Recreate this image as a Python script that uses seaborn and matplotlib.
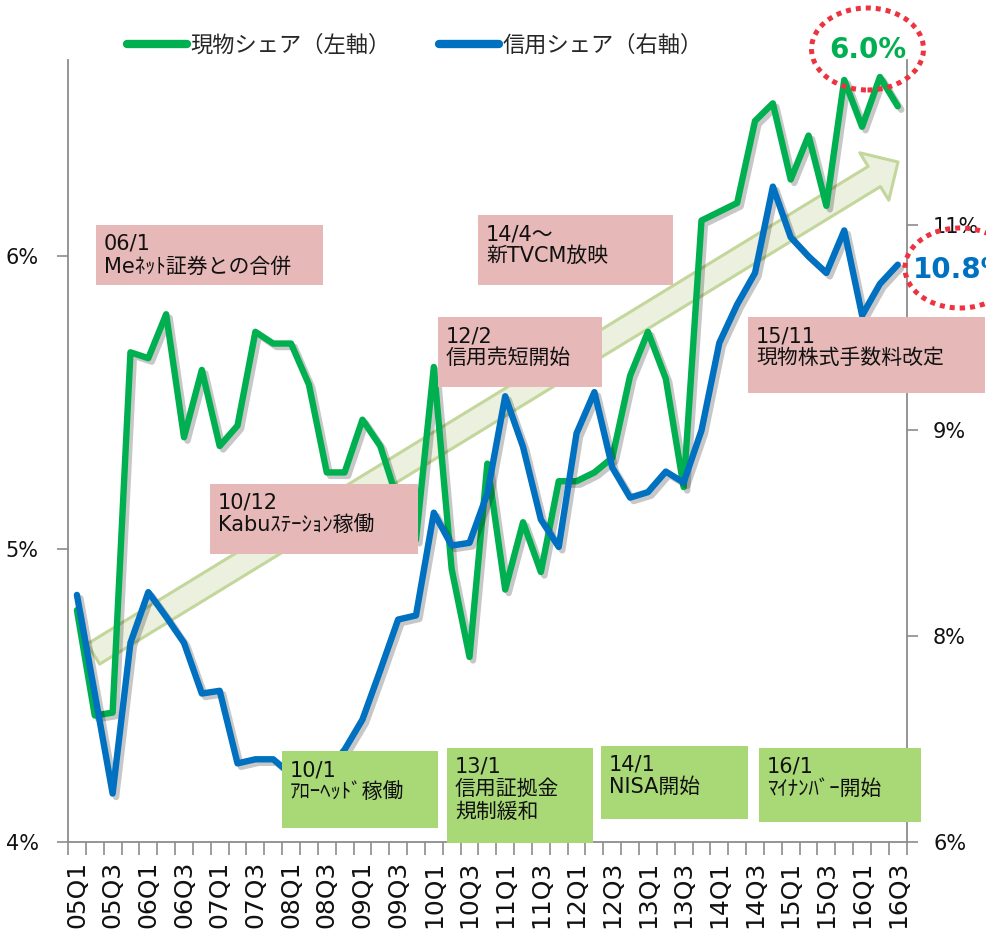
import numpy as np
import pandas as pd
import matplotlib
matplotlib.use('Agg')
import matplotlib.pyplot as plt
import seaborn as sns
from matplotlib.patches import Rectangle, Ellipse, FancyArrowPatch, ArrowStyle
from matplotlib.lines import Line2D
import matplotlib.patheffects as pe

# ---------------- data ----------------
quarters = ['05Q1', '05Q2', '05Q3', '05Q4', '06Q1', '06Q2', '06Q3', '06Q4',
            '07Q1', '07Q2', '07Q3', '07Q4', '08Q1', '08Q2', '08Q3', '08Q4',
            '09Q1', '09Q2', '09Q3', '09Q4', '10Q1', '10Q2', '10Q3', '10Q4',
            '11Q1', '11Q2', '11Q3', '11Q4', '12Q1', '12Q2', '12Q3', '12Q4',
            '13Q1', '13Q2', '13Q3', '13Q4', '14Q1', '14Q2', '14Q3', '14Q4',
            '15Q1', '15Q2', '15Q3', '15Q4', '16Q1', '16Q2', '16Q3']

# 現物シェア (left axis, %)
spot_share = [4.79, 4.43, 4.44, 5.67, 5.65, 5.80, 5.38, 5.61,
              5.35, 5.42, 5.74, 5.70, 5.70, 5.56, 5.26, 5.26,
              5.44, 5.35, 5.16, 5.03, 5.62, 4.93, 4.63, 5.29,
              4.86, 5.09, 4.92, 5.23, 5.23, 5.26, 5.31, 5.59,
              5.74, 5.58, 5.21, 6.12, 6.15, 6.18, 6.46, 6.52,
              6.26, 6.41, 6.17, 6.60, 6.44, 6.61, 6.51]

# 信用シェア (right axis, %)
margin_share = [7.80, 7.08, 6.35, 7.45, 7.82, 7.64, 7.45, 7.08,
                7.10, 6.57, 6.60, 6.60, 6.49, 6.41, 6.51, 6.67,
                6.89, 7.25, 7.62, 7.65, 8.40, 8.16, 8.18, 8.54,
                9.25, 8.88, 8.35, 8.15, 8.98, 9.28, 8.73, 8.51,
                8.55, 8.70, 8.62, 9.00, 9.64, 9.92, 10.15, 10.78,
                10.41, 10.27, 10.15, 10.46, 9.84, 10.07, 10.21]

left_ticks = [4, 5, 6]
left_tick_labels = ['4%', '5%', '6%']
right_ticks = [6, 7.5, 9, 10.5]
right_tick_labels = ['6%', '8%', '9%', '11%']

legend_labels = ['現物シェア（左軸）', '信用シェア（右軸）']

pink_notes = ['06/1\nMeﾈｯﾄ証券との合併', '14/4～\n新TVCM放映', '12/2\n信用売短開始',
              '10/12\nKabuｽﾃｰｼｮﾝ稼働', '15/11\n現物株式手数料改定']
green_notes = ['10/1\nｱﾛｰﾍｯﾄﾞ稼働', '13/1\n信用証拠金\n規制緩和', '14/1\nNISA開始',
               '16/1\nﾏｲﾅﾝﾊﾞｰ開始']

# ---------------- style ----------------
GREEN = '#00B050'
BLUE = '#0070C0'
GREY = '#8C8C8C'
PINK_BOX = '#E6B8B7'
GREEN_BOX = '#A9D977'

sns.set_theme(style='white')
plt.rcParams['font.family'] = ['DejaVu Sans', 'Noto Sans CJK JP']
plt.rcParams['axes.unicode_minus'] = False

W, H = 987, 933
fig = plt.figure(figsize=(W / 100, H / 100), dpi=100)
fig.patch.set_facecolor('white')

ax_l, ax_r, ax_t, ax_b = 68, 906.7, 60, 841.5
ax = fig.add_axes([ax_l / W, 1 - ax_b / H, (ax_r - ax_l) / W, (ax_b - ax_t) / H])
ax2 = ax.twinx()

df = pd.DataFrame({'quarter': quarters,
                   'pos': np.arange(len(quarters)),
                   'spot': spot_share,
                   'margin': margin_share})

shadow = [pe.SimpleLineShadow(offset=(2.5, -2.5), shadow_color='#000000', alpha=0.22, rho=0.3),
          pe.Normal()]

sns.lineplot(data=df, x='pos', y='spot', ax=ax, color=GREEN, linewidth=4.6,
             solid_joinstyle='round', solid_capstyle='round',
             path_effects=shadow, zorder=3, legend=False)
sns.lineplot(data=df, x='pos', y='margin', ax=ax2, color=BLUE, linewidth=4.6,
             solid_joinstyle='round', solid_capstyle='round',
             path_effects=shadow, zorder=3, legend=False)

ax.set_xlim(-0.5, len(quarters) - 0.5)
ax.set_ylim(4, 6.668)
ax2.set_ylim(6, 11.704)
ax.set_xlabel('')
ax.set_ylabel('')
ax2.set_ylabel('')

# x ticks: boundaries as major ticks, labels at every other category
ax.set_xticks(np.arange(-0.5, len(quarters), 1.0))
ax.set_xticklabels([])
ax.set_xticks(df['pos'][::2], minor=True)
ax.set_xticklabels(df['quarter'][::2], minor=True, rotation=90, fontsize=18,
                   color='#111111')
ax.tick_params(axis='x', which='major', bottom=True, length=9, width=1.2,
               color=GREY, direction='out')
ax.tick_params(axis='x', which='minor', bottom=True, length=0, pad=14)

ax.set_yticks(left_ticks)
ax.set_yticklabels(left_tick_labels, fontsize=15, color='#111111')
ax.tick_params(axis='y', left=True, length=8, width=1.2, color=GREY, pad=13,
               direction='out')
ax2.set_yticks(right_ticks)
ax2.set_yticklabels(right_tick_labels, fontsize=15, color='#111111')
ax2.tick_params(axis='y', right=True, length=8, width=1.2, color=GREY, pad=11,
                direction='out')

for s in ['top', 'right']:
    ax.spines[s].set_visible(False)
for s in ['left', 'bottom']:
    ax.spines[s].set_color(GREY)
    ax.spines[s].set_linewidth(1.3)
for s in ['top', 'left', 'bottom']:
    ax2.spines[s].set_visible(False)
ax2.spines['right'].set_color(GREY)
ax2.spines['right'].set_linewidth(1.3)
ax.grid(False)
ax2.grid(False)

# trend arrow (behind lines)
def axfrac(px, py):
    return ((px - ax_l) / (ax_r - ax_l), (ax_b - py) / (ax_b - ax_t))

arrow = FancyArrowPatch(axfrac(93.5, 654), axfrac(898, 162), transform=ax.transAxes,
                        arrowstyle=ArrowStyle.Simple(head_length=20, head_width=40,
                                                     tail_width=17),
                        mutation_scale=1, shrinkA=0, shrinkB=0,
                        facecolor='#EBF1DE', edgecolor='#C3D69B', linewidth=2.2,
                        zorder=1)
ax.add_patch(arrow)

# legend
handles = [Line2D([], [], color=GREEN, lw=6, solid_capstyle='round'),
           Line2D([], [], color=BLUE, lw=6, solid_capstyle='round')]
fig.legend(handles, legend_labels, loc='center', bbox_to_anchor=(415 / W, 1 - 45 / H),
           ncol=2, frameon=False, fontsize=16, handlelength=2.7, handletextpad=0.15,
           columnspacing=2.2)

# annotation boxes (pixel geometry: x0, y0, x1, y1)
def box(x0, y0, x1, y1, color, text):
    fig.add_artist(Rectangle((x0 / W, 1 - y1 / H), (x1 - x0) / W, (y1 - y0) / H,
                             transform=fig.transFigure, facecolor=color,
                             edgecolor='none', zorder=4))
    fig.text((x0 + 8) / W, 1 - (y0 + 9) / H, text, ha='left', va='top',
             fontsize=15, color='#111111', linespacing=1.15, zorder=5)

pink_geom = [(96, 225, 323, 285), (478, 215, 673, 285), (438, 317, 602, 387),
             (210, 484, 418, 554), (748, 317, 985, 393)]
green_geom = [(282, 751, 438, 828), (447, 748, 593, 843), (601, 746, 748, 819),
              (759, 748, 921, 822)]
for g, t in zip(pink_geom, pink_notes):
    box(*g, PINK_BOX, t)
for g, t in zip(green_geom, green_notes):
    box(*g, GREEN_BOX, t)

# highlighted latest values
fig.text(868 / W, 1 - 50 / H, '6.0%', ha='center', va='center', fontsize=20,
         fontweight='bold', color=GREEN, zorder=6)
fig.text(913 / W, 1 - 270 / H, '10.8%', ha='left', va='center', fontsize=20,
         fontweight='bold', color=BLUE, zorder=6)
for cx, cy, w, h in [(867.5, 49, 112, 82), (960, 268, 110, 80)]:
    fig.add_artist(Ellipse((cx / W, 1 - cy / H), w / W, h / H,
                           transform=fig.transFigure, fill=False,
                           edgecolor='#EE3340', linewidth=3.6,
                           linestyle=(0, (1, 1)), zorder=6))

fig.savefig('out.png', dpi=100, facecolor='white')
